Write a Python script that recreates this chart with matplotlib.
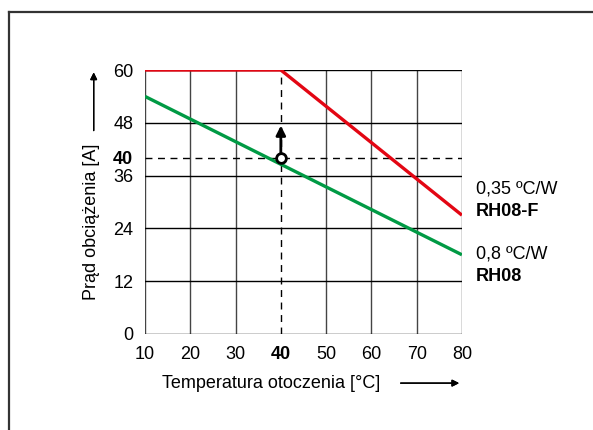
import matplotlib.pyplot as plt
from matplotlib.lines import Line2D

plt.rcParams['font.family'] = ['Liberation Sans', 'DejaVu Sans']

# data
temp_red = [10, 40, 80]
curr_red = [60, 60, 27]
temp_green = [10, 80]
curr_green = [54, 18]
x_ticks = [10, 20, 30, 40, 50, 60, 70, 80]
y_ticks = [0, 12, 24, 36, 40, 48, 60]
grid_y = [0, 12, 24, 36, 48, 60]
point_x, point_y, arrow_top = 40, 40, 48

fig = plt.figure(figsize=(5.93, 4.30), dpi=100)
ax = fig.add_axes([0.2445, 0.2233, 0.5345, 0.6139])

# frame around the figure (top and left only)
fig.add_artist(Line2D([0.0152, 0.0152], [0, 0.972], color='#333', lw=1.6, transform=fig.transFigure))
fig.add_artist(Line2D([0.0152, 1], [0.972, 0.972], color='#333', lw=1.6, transform=fig.transFigure))

# grid
for gx in x_ticks:
    if gx != 40:
        ax.axvline(gx, color='#444', lw=1, zorder=1)
for gy in grid_y:
    ax.axhline(gy, color='black', lw=1, zorder=1)

# dashed guides
ax.plot([40, 40], [0, 60], color='black', lw=1, ls=(0, (5, 4)), zorder=2)
ax.plot([10, 80], [40, 40], color='black', lw=1, ls=(0, (5, 4)), zorder=2)

ax.plot(temp_red, curr_red, color='#e30613', lw=2.4, solid_capstyle='butt', zorder=4)
ax.plot(temp_green, curr_green, color='#009a44', lw=2.4, solid_capstyle='butt', zorder=4)

ax.annotate('', xy=(point_x, arrow_top), xytext=(point_x, point_y),
            arrowprops=dict(arrowstyle='-|>', color='black', lw=2, mutation_scale=14),
            zorder=5)
ax.plot([point_x], [point_y], 'o', ms=7, mfc='white', mec='black', mew=2, zorder=6)

ax.set_xlim(10, 80)
ax.set_ylim(0, 60)
for s in ax.spines.values():
    s.set_visible(False)
ax.set_xticks(x_ticks)
ax.set_yticks(y_ticks)
ax.set_xticklabels([str(t) for t in x_ticks], fontsize=13)
ax.set_yticklabels([str(t) for t in y_ticks], fontsize=13)
ax.tick_params(axis='y', length=0, pad=8.5)
ax.tick_params(axis='x', length=0, pad=8.5)
for lab in ax.get_xticklabels():
    if lab.get_text() == '40':
        lab.set_fontweight('bold')
for lab in ax.get_yticklabels():
    if lab.get_text() == '40':
        lab.set_fontweight('bold')

# axis titles with arrows
fig.text(0.155, 0.484, 'Prąd obciążenia [A]', rotation=90, fontsize=13,
         ha='center', va='center')
fig.add_artist(plt.annotate('', xy=(0.158, 0.838), xytext=(0.158, 0.69),
                            xycoords='figure fraction',
                            arrowprops=dict(arrowstyle='-|>', color='black', lw=1, mutation_scale=10)))
fig.text(0.273, 0.109, 'Temperatura otoczenia [°C]', fontsize=13, ha='left', va='center')
fig.add_artist(plt.annotate('', xy=(0.779, 0.109), xytext=(0.671, 0.109),
                            xycoords='figure fraction',
                            arrowprops=dict(arrowstyle='-|>', color='black', lw=1, mutation_scale=10)))

# series labels
fig.text(0.803, 0.560, '0,35 ºC/W', fontsize=13, va='center')
fig.text(0.803, 0.507, 'RH08-F', fontsize=13, fontweight='bold', va='center')
fig.text(0.803, 0.409, '0,8 ºC/W', fontsize=13, va='center')
fig.text(0.803, 0.356, 'RH08', fontsize=13, fontweight='bold', va='center')

fig.savefig('out.png', dpi=100)
